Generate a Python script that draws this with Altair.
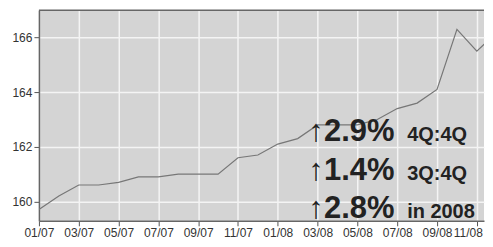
import altair as alt
import pandas as pd

month_index = list(range(24))
cpi = [159.7, 160.2, 160.6, 160.6, 160.7, 160.9, 160.9, 161.0, 161.0, 161.0,
       161.6, 161.7, 162.1, 162.3, 162.8, 162.8, 162.8, 163.0, 163.4, 163.6,
       164.1, 166.3, 165.5, 166.2]
tick_labels = ["01/07", "03/07", "05/07", "07/07", "09/07", "11/07",
               "01/08", "03/08", "05/08", "07/08", "09/08", "11/08"]

arrows = ["↑", "↑", "↑"]
big_text = ["2.9%", "1.4%", "2.8%"]
small_text = ["4Q:4Q", "3Q:4Q", "in 2008"]
text_y = [162.21, 160.77, 159.38]
arrow_x = 13.53
big_x = 14.32
small_x = 18.5

df = pd.DataFrame({"m": month_index, "v": cpi})
ann = pd.DataFrame({"arrow": arrows, "big": big_text, "small": small_text, "y": text_y,
                    "ax": [arrow_x] * 3, "bx": [big_x] * 3, "sx": [small_x] * 3})
top_edge = pd.DataFrame({"y": [167]})

label_expr = "[" + ",".join(f"'{t}'" for t in tick_labels) + "][round(datum.value/2)]"

x_scale = alt.Scale(domain=[0, 22.36], nice=False, zero=False)
y_scale = alt.Scale(domain=[159.29, 167], nice=False, zero=False)

line = alt.Chart(df).mark_line(color="#777777", strokeWidth=1.2, clip=True).encode(
    x=alt.X("m:Q", scale=x_scale,
            axis=alt.Axis(values=list(range(0, 24, 2)), labelExpr=label_expr,
                          title=None, labelFont="Liberation Sans", labelFontSize=12,
                          labelColor="#333333", tickColor="#555555", tickSize=5,
                          domainColor="#666666", domainWidth=1.5,
                          gridColor="#f4f4f4", gridWidth=1.5,
                          labelOffset=alt.expr("datum.value >= 22 ? -9 : 0"),
                          labelPadding=2, labelOverlap=False, labelFlush=False)),
    y=alt.Y("v:Q", scale=y_scale,
            axis=alt.Axis(values=[160, 162, 164, 166], title=None,
                          labelFont="Liberation Sans", labelFontSize=12,
                          labelColor="#333333", tickColor="#555555", tickSize=5,
                          domainColor="#666666", domainWidth=1.5,
                          gridColor="#f4f4f4", gridWidth=1.5,
                          minExtent=31, maxExtent=31, labelPadding=2)),
)

top = alt.Chart(top_edge).mark_rule(color="#666666", strokeWidth=1.5).encode(
    y=alt.Y("y:Q", scale=y_scale))

arrow = alt.Chart(ann).mark_text(align="left", baseline="alphabetic",
                                  font="Liberation Sans", fontWeight="bold",
                                  fontSize=31, color="#222222").encode(
    x=alt.X("ax:Q", scale=x_scale), y=alt.Y("y:Q", scale=y_scale), text="arrow:N")

big = alt.Chart(ann).mark_text(align="left", baseline="alphabetic",
                                font="Liberation Sans", fontWeight="bold",
                                fontSize=31, color="#222222").encode(
    x=alt.X("bx:Q", scale=x_scale), y=alt.Y("y:Q", scale=y_scale), text="big:N")

small = alt.Chart(ann).mark_text(align="left", baseline="alphabetic",
                                  font="Liberation Sans", fontWeight="bold",
                                  fontSize=20, color="#222222").encode(
    x=alt.X("sx:Q", scale=x_scale), y=alt.Y("y:Q", scale=y_scale), text="small:N")

chart = alt.layer(line, top, arrow, big, small).properties(
    width=446, height=211,
    padding={"left": 0, "top": 1, "right": 0, "bottom": 0},
).configure_view(fill="#d4d4d4", stroke=None)

chart.save("out.html", embed_options={"renderer": "svg", "actions": False})
